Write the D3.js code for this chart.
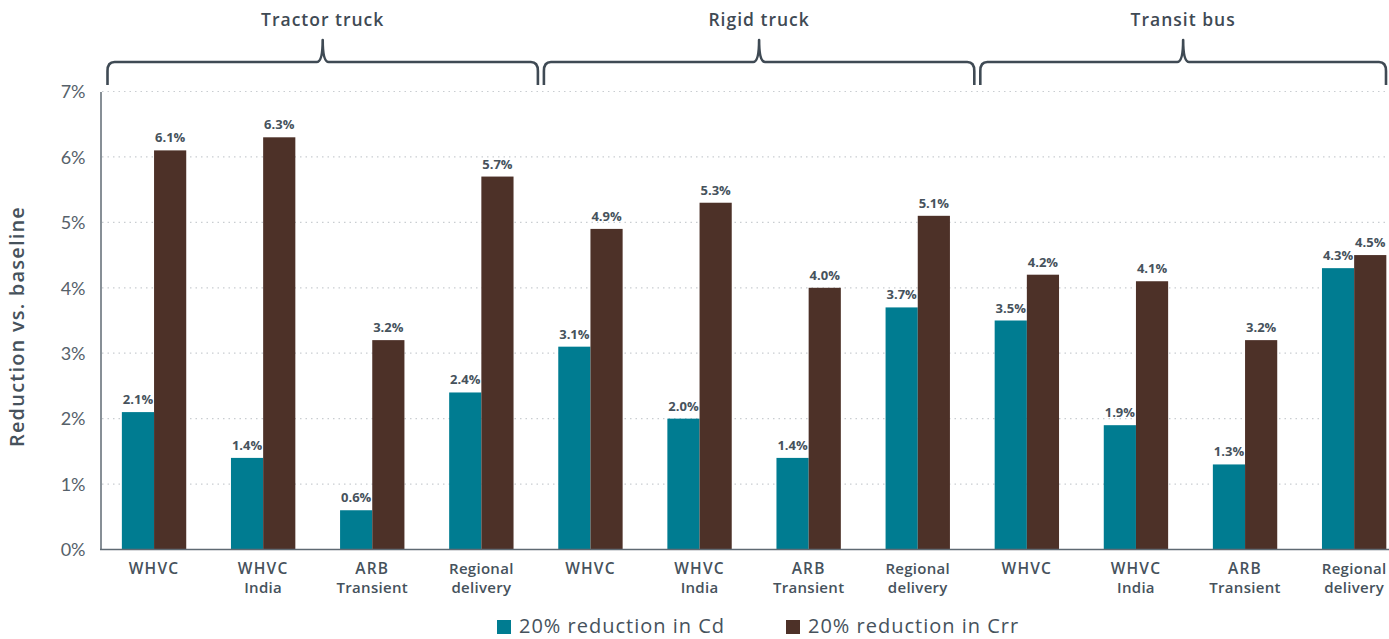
<!DOCTYPE html>
<html>
<head>
<meta charset="utf-8">
<script src="https://cdn.jsdelivr.net/npm/d3@7"></script>
<style>
  html, body { margin: 0; padding: 0; background: #fff; }
  svg { display: block; font-family: "Open Sans", Lato, sans-serif; }
</style>
</head>
<body>
<svg id="chart" width="1389" height="639"></svg>
<script>
// Drive-cycle categories, grouped by vehicle type
const groups = ["Tractor truck", "Rigid truck", "Transit bus"];
const cycles = [["WHVC"], ["WHVC", "India"], ["ARB", "Transient"], ["Regional", "delivery"]];
const seriesNames = ["20% reduction in Cd", "20% reduction in Crr"];
const seriesColors = ["#007c91", "#4d3128"];

// Fuel consumption reduction (%) per group, in cycle order
const cdValues  = [2.1, 1.4, 0.6, 2.4,  3.1, 2.0, 1.4, 3.7,  3.5, 1.9, 1.3, 4.3];
const crrValues = [6.1, 6.3, 3.2, 5.7,  4.9, 5.3, 4.0, 5.1,  4.2, 4.1, 3.2, 4.5];
const yTicks = [0, 1, 2, 3, 4, 5, 6, 7];

const W = 1389, H = 639;
const svg = d3.select("#chart");

const categories = d3.range(groups.length * cycles.length);
const x0 = d3.scaleBand().domain(categories).range([99.5, 1408.7]).paddingInner(0.41).paddingOuter(0.205);
const x1 = d3.scaleBand().domain([0, 1]).range([0, x0.bandwidth()]);
const y = d3.scaleLinear().domain([0, 7]).range([549.5, 91.5]);

const textColor = "#46525c";

// Dotted gridlines
svg.append("g").selectAll("line").data(yTicks.filter(d => d > 0)).join("line")
  .attr("x1", 102).attr("x2", W)
  .attr("y1", d => y(d)).attr("y2", d => y(d))
  .attr("stroke", "#c9cdd1").attr("stroke-width", 1.2)
  .attr("stroke-dasharray", "1.5,4");

// Y axis
const yAxis = svg.append("g").attr("transform", "translate(100.5,0)")
  .call(d3.axisLeft(y).tickValues(yTicks).tickSize(0).tickPadding(15).tickFormat(d => d + "%"));
yAxis.select(".domain").attr("stroke", "#5f6a73").attr("stroke-width", 1.5);
yAxis.selectAll("text").attr("font-size", 18).attr("fill", "#56616a")
  .attr("font-family", "Lato, sans-serif").attr("dy", "0.35em");

svg.append("text")
  .attr("transform", `translate(24,${y(3.5) + 6}) rotate(-90)`)
  .attr("text-anchor", "middle").attr("font-size", 20).attr("font-weight", 600)
  .attr("letter-spacing", 1.2)
  .attr("fill", textColor).text("Reduction vs. baseline");

// Bars
const rows = categories.map(i => ({ i, vals: [cdValues[i], crrValues[i]] }));
const catG = svg.append("g").selectAll("g").data(rows).join("g")
  .attr("transform", d => `translate(${x0(d.i)},0)`);

catG.selectAll("rect").data(d => d.vals.map((v, s) => ({ v, s }))).join("rect")
  .attr("x", d => x1(d.s)).attr("width", x1.bandwidth())
  .attr("y", d => y(d.v)).attr("height", d => y(0) - y(d.v))
  .attr("fill", d => seriesColors[d.s]);

catG.selectAll("text.val").data(d => d.vals.map((v, s) => ({ v, s }))).join("text")
  .attr("class", "val")
  .attr("x", d => x1(d.s) + x1.bandwidth() / 2)
  .attr("y", d => y(d.v) - 8)
  .attr("text-anchor", "middle").attr("font-size", 13).attr("font-weight", 700)
  .attr("fill", textColor)
  .text(d => d.v.toFixed(1) + "%");

// X axis baseline
svg.append("line").attr("x1", 100).attr("x2", W)
  .attr("y1", y(0)).attr("y2", y(0))
  .attr("stroke", "#5f6a73").attr("stroke-width", 1.5);

// Category labels
const catLabels = svg.append("g").selectAll("text").data(categories).join("text")
  .attr("x", d => x0(d) + x0.bandwidth() / 2)
  .attr("y", 574)
  .attr("text-anchor", "middle").attr("font-size", 15).attr("font-weight", 600)
  .attr("fill", textColor);
catLabels.each(function (d) {
  const lines = cycles[d % cycles.length];
  d3.select(this).selectAll("tspan").data(lines).join("tspan")
    .attr("x", x0(d) + x0.bandwidth() / 2)
    .attr("dy", (l, k) => k === 0 ? 0 : 19)
    .attr("font-size", l => (l === "WHVC" || l === "ARB") ? 15.5 : 15)
    .attr("letter-spacing", l => (l === "WHVC" || l === "ARB") ? 1.2 : 0.3)
    .text(l => l);
});

// Group braces and titles
const step = x0.step();
groups.forEach((g, gi) => {
  const start = x0(gi * 4) - x0.paddingOuter() * step;
  const end = start + 4 * step;
  const a = start + 8, b = Math.min(end + 2, W - 3);
  const mid = (a + b) / 2;
  const top = 62, bot = 85, peak = 40;
  const p = d3.path();
  p.moveTo(a, bot);
  p.lineTo(a, top + 9);
  p.quadraticCurveTo(a, top, a + 7, top);
  p.lineTo(mid - 6, top);
  p.quadraticCurveTo(mid, top, mid, peak);
  p.quadraticCurveTo(mid, top, mid + 6, top);
  p.lineTo(b - 7, top);
  p.quadraticCurveTo(b, top, b, top + 9);
  p.lineTo(b, bot);
  svg.append("path").attr("d", p.toString())
    .attr("fill", "none").attr("stroke", "#3f4a54").attr("stroke-width", 2.6)
    .attr("stroke-linejoin", "round");
  svg.append("text").attr("x", mid).attr("y", 26)
    .attr("text-anchor", "middle").attr("font-size", 17.5).attr("font-weight", 600)
    .attr("letter-spacing", 1)
    .attr("fill", "#3f4a54").text(g);
});

// Legend
const legendItems = [{ x: 497 }, { x: 786 }];
const lg = svg.append("g").selectAll("g").data(seriesNames).join("g")
  .attr("transform", (d, i) => `translate(${legendItems[i].x},0)`);
lg.append("rect").attr("x", 0).attr("y", 620).attr("width", 14).attr("height", 14)
  .attr("fill", (d, i) => seriesColors[i]);
lg.append("text").attr("x", 22).attr("y", 633)
  .attr("font-size", 20).attr("font-weight", 500).attr("letter-spacing", 1)
  .attr("fill", textColor)
  .text(d => d);
</script>
</body>
</html>
